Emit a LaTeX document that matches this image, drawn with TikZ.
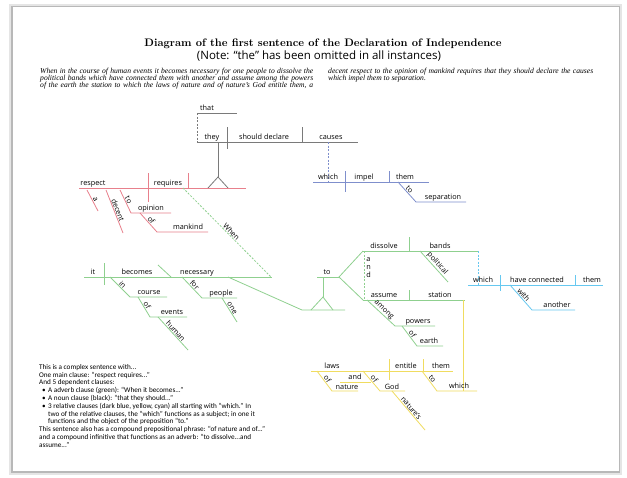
\documentclass[tikz,border=0pt]{standalone}
\usepackage{fontspec}
\newfontfamily\wordfont{Open Sans}
\newfontfamily\notefont{Carlito}
\newfontfamily\parfont{Liberation Serif}
\definecolor{redln}{HTML}{E8808C}
\definecolor{greenln}{HTML}{8FD08F}
\definecolor{blueln}{HTML}{7F8FCC}
\definecolor{cyanln}{HTML}{66C8F0}
\definecolor{yellowln}{HTML}{F0DC60}
\definecolor{blackln}{HTML}{7A7A7A}
\tikzset{
  ln/.style={line width=0.8pt},
  dotln/.style={line width=0.8pt, dash pattern=on 2pt off 1.5pt},
  word/.style={font=\wordfont\fontsize{7.3}{9}\selectfont, anchor=base, inner sep=0pt},
  slantlbl/.style={font=\wordfont\fontsize{7.3}{9}\selectfont, sloped, above, inner sep=0.6pt, midway, text=black},
  parline/.style={font=\parfont\itshape\fontsize{7.6}{8}\selectfont, anchor=base west, inner sep=0pt}
}
\begin{document}
\begin{tikzpicture}[x=1pt,y=-1pt]
\useasboundingbox (0,0) rectangle (627,477);
% page with shadow
\fill[black!10] (9,4) rectangle (622,475);
\fill[black!28] (11,6) rectangle (620,473);
\fill[white] (13,7) rectangle (619,471);

% title and notes
\node[font=\bfseries\fontsize{10.9}{12}\selectfont] (title) at (323,44) {Diagram of the first sentence of the Declaration of Independence};
\node[font=\wordfont\fontsize{11.5}{13}\selectfont] (note) at (319,56) {(Note: “the” has been omitted in all instances)};

% sentence text
\node[parline] (par1) at (40,73.5) {\makebox[273pt][s]{When in the course of human events it becomes necessary for one people to dissolve the}};
\node[parline] (par2) at (40,80.5) {\makebox[273pt][s]{political bands which have connected them with another and assume among the powers}};
\node[parline] (par3) at (40,87.5) {\makebox[273pt][s]{of the earth the station to which the laws of nature and of nature’s God entitle them, a}};
\node[parline] (par4) at (328,73.5) {\makebox[265pt][s]{decent respect to the opinion of mankind requires that they should declare the causes}};
\node[parline] (par5) at (328,80.5) {which impel them to separation.};

% noun clause (black)
\draw[ln, blackln] (197,113) -- (237,113);
\draw[dotln, blackln] (197,113) -- (197,142);
\draw[ln, blackln] (197,142) -- (358,142);
\draw[ln, blackln] (227,127) -- (227,149);
\draw[ln, blackln] (302,127) -- (302,142);
\coordinate (stemtop) at (218,142);
\coordinate (apex) at (218,177);
\draw[ln, blackln] (stemtop) -- (apex);
\draw[ln, blackln] (208,188) -- (apex) -- (228,188);
\node[word] (that) at (207,110) {that};
\node[word] (they) at (212,139) {they};
\node[word] (declare) at (264,139) {should declare};
\node[word] (causes) at (331,139) {causes};

% main clause (red)
\draw[ln, redln] (79,188) -- (246,188);
\draw[ln, redln] (148,173) -- (148,202);
\draw[ln, redln] (188,173) -- (188,188);
\node[word] (respect) at (93,185) {respect};
\node[word] (requires) at (168,185) {requires};
\draw[ln, redln] (87,190) -- node[slantlbl] (a) {a} (98,211);
\draw[ln, redln] (106,190) -- node[slantlbl] (decent) {decent} (123,233);
\draw[ln, redln] (120,190) -- node[slantlbl] (to1) {to} (131,213) -- (171,213);
\node[word] (opinion) at (151,210) {opinion};
\draw[ln, redln] (140,213) -- node[slantlbl] (of1) {of} (157,232) -- (208,232);
\node[word] (mankind) at (188,229) {mankind};

% adverb clause (green)
\draw[dotln, greenln] (183,188) -- node[slantlbl, pos=0.52] (when) {When} (271,277);
\draw[ln, greenln] (84,277) -- (272,277);
\draw[ln, greenln] (104,263) -- (104,285);
\draw[ln, greenln] (158,265) -- (171,277);
\node[word] (it) at (93,274) {it};
\node[word] (becomes) at (137,274) {becomes};
\node[word] (necessary) at (197,274) {necessary};
\draw[ln, greenln] (110,277) -- node[slantlbl] (in) {in} (130,297) -- (167,297);
\node[word] (course) at (149,294) {course};
\draw[ln, greenln] (138,297) -- node[slantlbl] (of2) {of} (150,317) -- (187,317);
\node[word] (events) at (172,314) {events};
\draw[ln, greenln] (158,317) -- node[slantlbl] (human) {human} (188,350);
\draw[ln, greenln] (182,277) -- node[slantlbl] (for) {for} (202,298) -- (237,298);
\node[word] (people) at (221,295) {people};
\draw[ln, greenln] (222,298) -- node[slantlbl] (one) {one} (237,322);

% infinitive phrase
\draw[ln, greenln] (228,277) -- (302,310) -- (345,310);
\draw[ln, greenln] (311,310) -- (323,297) -- (333,310);
\draw[ln, greenln] (323,297) -- (323,277);
\draw[ln, greenln] (317,277) -- (339,277);
\node[word] (to2) at (327,274) {to};
\draw[ln, greenln] (363,251) -- (339,277) -- (363,300);
\draw[ln, greenln] (363,251) -- (478,251);
\draw[ln, greenln] (409,237) -- (409,251);
\node[word] (dissolve) at (384,248) {dissolve};
\node[word] (bands) at (440,248) {bands};
\draw[ln, greenln] (420,251) -- node[slantlbl] (political) {political} (448,282);
\draw[dotln, greenln] (364,251) -- (364,300);
\node[font=\wordfont\fontsize{7.3}{8}\selectfont, align=center, inner sep=0pt] (and1) at (368.5,268) {a\\n\\d};
\draw[ln, greenln] (363,300) -- (465,300);
\draw[ln, greenln] (409,290) -- (409,300);
\node[word] (assume) at (384,297) {assume};
\node[word] (station) at (440,297) {station};
\draw[ln, greenln] (367,300) -- node[slantlbl] (among) {among} (395,326) -- (435,326);
\node[word] (powers) at (418,323) {powers};
\draw[ln, greenln] (402,326) -- node[slantlbl] (of3) {of} (417,346) -- (443,346);
\node[word] (earth) at (429,343) {earth};

% relative clause (cyan)
\draw[dotln, cyanln] (478,251) -- (478,285);
\draw[ln, cyanln] (468,285) -- (603,285);
\draw[ln, cyanln] (500,275) -- (500,291);
\draw[ln, cyanln] (575,275) -- (575,285);
\node[word] (which1) at (483,282) {which};
\node[word] (connected) at (537,282) {have connected};
\node[word] (them1) at (592,282) {them};
\draw[ln, cyanln] (510,285) -- node[slantlbl] (with) {with} (532,310) -- (575,310);
\node[word] (another) at (557,307) {another};

% relative clause (blue)
\draw[dotln, blueln] (328,142) -- (328,182);
\draw[ln, blueln] (313,182) -- (429,182);
\draw[ln, blueln] (345,171) -- (345,192);
\draw[ln, blueln] (389,171) -- (389,182);
\node[word] (which2) at (328,179) {which};
\node[word] (impel) at (364,179) {impel};
\node[word] (them2) at (405,179) {them};
\draw[ln, blueln] (398,182) -- node[slantlbl] (to3) {to} (416,202) -- (466,202);
\node[word] (separation) at (443,199) {separation};

% relative clause (yellow)
\draw[ln, yellowln] (463,300) -- (463,391);
\draw[ln, yellowln] (311,371) -- (453,371);
\draw[ln, yellowln] (389,359) -- (389,380);
\draw[ln, yellowln] (423,359) -- (423,371);
\node[word] (laws) at (332,368) {laws};
\node[word] (entitle) at (406,368) {entitle};
\node[word] (them3) at (441,368) {them};
\draw[ln, yellowln] (317,371) -- node[slantlbl] (of4) {of} (332,391) -- (358,391);
\node[word] (nature) at (347,389) {nature};
\draw[ln, yellowln] (340,382) -- (371,382);
\node[word] (and2) at (355,379) {and};
\draw[ln, yellowln] (363,371) -- node[slantlbl] (of5) {of} (380,391) -- (405,391);
\node[word] (god) at (392,389) {God};
\draw[ln, yellowln] (392,391) -- node[slantlbl] (natures) {nature’s} (425,430);
\draw[ln, yellowln] (422,371) -- node[slantlbl] (to4) {to} (437,391) -- (477,391);
\node[word] (which3) at (459,388) {which};

% explanation
\node[font=\notefont\fontsize{7.2}{7.8}\selectfont, align=left, anchor=north west, inner sep=0pt] (expl) at (39,364) {%
This is a complex sentence with...\\
One main clause: “respect requires...”\\
And 5 dependent clauses:\\
\makebox[9pt][l]{\hspace{3pt}•}A adverb clause (green): “When it becomes...”\\
\makebox[9pt][l]{\hspace{3pt}•}A noun clause (black): “that they should...”\\
\makebox[9pt][l]{\hspace{3pt}•}3 relative clauses (dark blue, yellow, cyan) all starting with “which.” In\\
\hspace*{9pt}two of the relative clauses, the “which” functions as a subject; in one it\\
\hspace*{9pt}functions and the object of the preposition “to.”\\
This sentence also has a compound prepositional phrase: “of nature and of...”\\
and a compound infinitive that functions as an adverb: “to dissolve...and\\
assume...”};
\end{tikzpicture}
\end{document}
